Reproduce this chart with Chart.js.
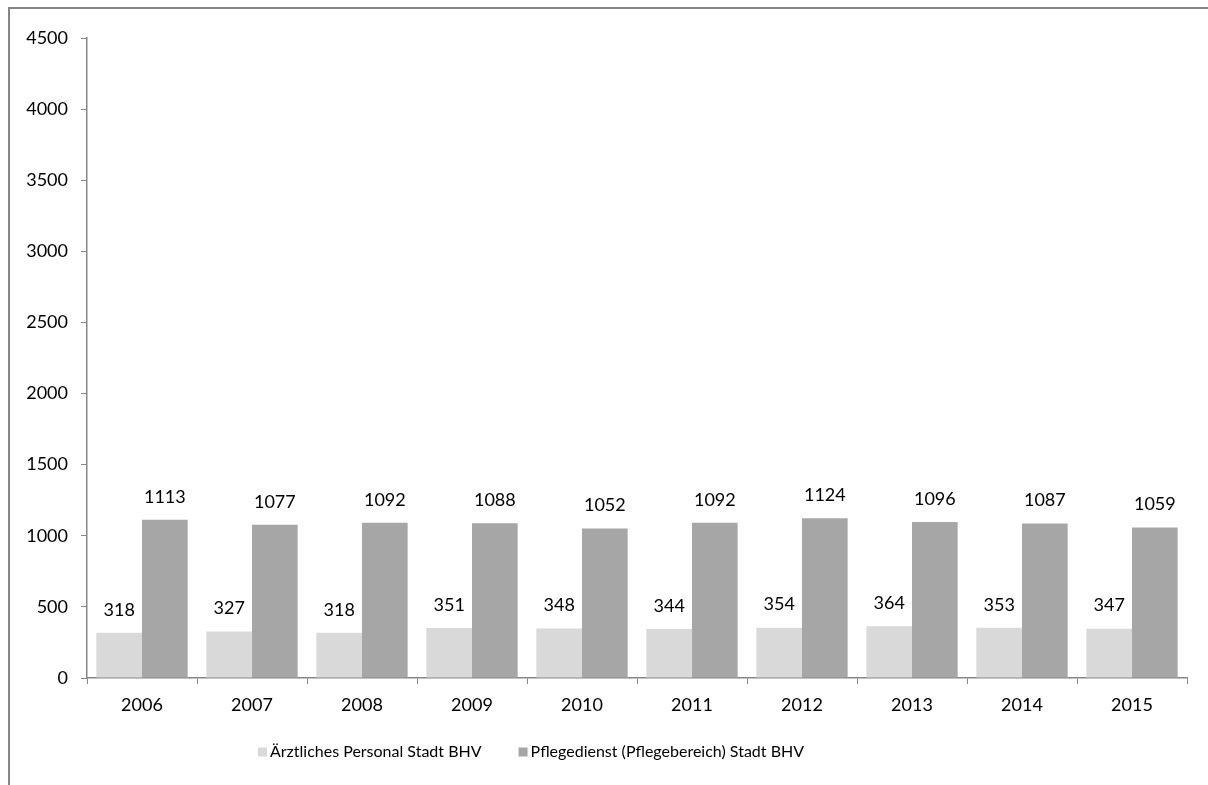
<!DOCTYPE html>
<html>
<head>
<meta charset="utf-8">
<script src="https://cdn.jsdelivr.net/npm/chart.js@4/dist/chart.umd.min.js"></script>
<style>
html,body{margin:0;padding:0;background:#fff;}
#wrap{width:1208px;height:785px;position:relative;}
</style>
</head>
<body>
<div id="wrap"><canvas id="c" width="1208" height="785"></canvas></div>
<script>
const categories = ['2006','2007','2008','2009','2010','2011','2012','2013','2014','2015'];
const seriesNames = ['Ärztliches Personal Stadt BHV', 'Pflegedienst (Pflegebereich) Stadt BHV'];
const aerzte = [318, 327, 318, 351, 348, 344, 354, 364, 353, 347];
const pflege = [1113, 1077, 1092, 1088, 1052, 1092, 1124, 1096, 1087, 1059];
const yTicks = [0, 500, 1000, 1500, 2000, 2500, 3000, 3500, 4000, 4500];

const FONT = 'Lato, "Open Sans", sans-serif';
const AXIS = '#868686';

const framePlugin = {
  id: 'frame',
  afterDraw(chart) {
    const ctx = chart.ctx;
    ctx.save();
    ctx.strokeStyle = '#858585';
    ctx.lineWidth = 2;
    ctx.beginPath();
    ctx.moveTo(9, 785);
    ctx.lineTo(9, 8);
    ctx.lineTo(1208, 8);
    ctx.stroke();
    ctx.restore();
  }
};

const labelPlugin = {
  id: 'valLabels',
  afterDatasetsDraw(chart) {
    const ctx = chart.ctx;
    ctx.save();
    ctx.font = '18px ' + FONT;
    ctx.fillStyle = '#000';
    ctx.textAlign = 'center';
    ctx.textBaseline = 'middle';
    chart.data.datasets.forEach((ds, i) => {
      chart.getDatasetMeta(i).data.forEach((bar, j) => {
        ctx.fillText(String(ds.data[j]), bar.x, bar.y - 23);
      });
    });
    ctx.restore();
  }
};

const legendPlugin = {
  id: 'customLegend',
  afterDraw(chart) {
    const ctx = chart.ctx;
    ctx.save();
    ctx.font = '16px ' + FONT;
    ctx.textBaseline = 'middle';
    ctx.textAlign = 'left';
    const box = 9, gapText = 3, gapItem = 37, cy = 752, center = 531;
    const ds = chart.data.datasets;
    const widths = ds.map(d => box + gapText + ctx.measureText(d.label).width);
    const total = widths.reduce((a, b) => a + b, 0) + gapItem * (ds.length - 1);
    let x = center - total / 2;
    ds.forEach((d, i) => {
      ctx.fillStyle = d.backgroundColor;
      ctx.fillRect(x, cy - box / 2, box, box);
      ctx.fillStyle = '#000';
      ctx.fillText(d.label, x + box + gapText, cy);
      x += widths[i] + gapItem;
    });
    ctx.restore();
  }
};

new Chart(document.getElementById('c'), {
  type: 'bar',
  data: {
    labels: categories,
    datasets: [
      { label: seriesNames[0], data: aerzte, backgroundColor: '#d9d9d9', borderWidth: 0 },
      { label: seriesNames[1], data: pflege, backgroundColor: '#a6a6a6', borderWidth: 0 }
    ]
  },
  options: {
    responsive: false,
    animation: false,
    devicePixelRatio: 1,
    layout: { padding: { left: 10, right: 21, top: 38, bottom: 57 } },
    datasets: { bar: { categoryPercentage: 0.83, barPercentage: 1.0 } },
    plugins: {
      legend: { display: false },
      tooltip: { enabled: false }
    },
    scales: {
      x: {
        grid: { drawOnChartArea: false, color: AXIS, tickLength: 6, offset: true },
        border: { color: AXIS, width: 1.5 },
        ticks: { color: '#000', font: { family: FONT, size: 18 }, padding: 10 },
        afterFit(s) { s.height = 50; }
      },
      y: {
        min: 0, max: 4500,
        afterBuildTicks(s) { s.ticks = yTicks.map(v => ({ value: v })); },
        grid: { drawOnChartArea: false, color: AXIS, tickLength: 6 },
        border: { color: AXIS, width: 1.5 },
        ticks: { color: '#000', font: { family: FONT, size: 18 }, padding: 13, callback: v => String(v) },
        afterFit(s) { s.width = 77; }
      }
    }
  },
  plugins: [framePlugin, labelPlugin, legendPlugin]
});
</script>
</body>
</html>
